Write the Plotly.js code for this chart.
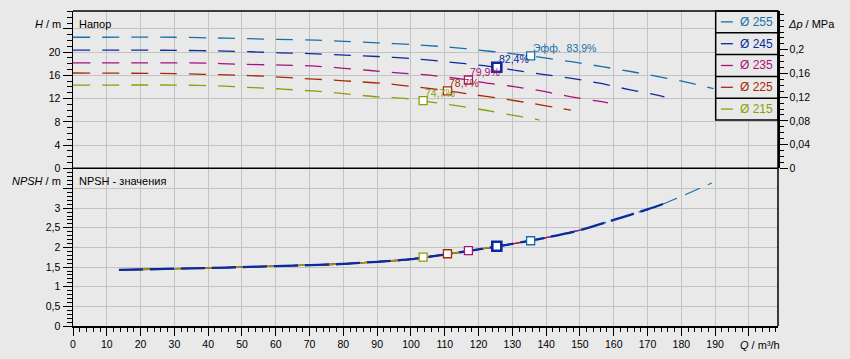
<!DOCTYPE html>
<html>
<head>
<meta charset="utf-8">
<script src="https://cdn.plot.ly/plotly-3.0.1.min.js"></script>
<style>
html,body{margin:0;padding:0;background:#e9e9e9;}
#chart{width:850px;height:359px;}
</style>
</head>
<body>
<div id="chart"></div>
<script>
// ---------- DATA ----------
const diameters = ['255', '245', '235', '225', '215'];

// Head curves H(Q), Q in m³/h, H in m
const q255 = [0, 30, 45, 60, 72, 82, 90, 100, 108, 116, 124, 135.4, 139.5, 148, 156.5, 165, 173.5, 181.7, 189.5];
const h255 = [22.55, 22.55, 22.4, 22.2, 22.05, 21.8, 21.6, 21.3, 21.0, 20.6, 20.1, 19.36, 19.0, 18.3, 17.5, 16.66, 15.74, 14.8, 13.7];

const q245 = [0, 30, 45, 55, 61, 70, 82, 90, 100, 108, 116, 125.4, 131, 139.5, 148, 155.8, 164.5, 172.5, 175];
const h245 = [20.35, 20.3, 20.17, 20.0, 19.88, 19.74, 19.45, 19.24, 18.9, 18.47, 18.0, 17.4, 16.85, 16.14, 15.43, 14.65, 13.55, 12.64, 12.3];

const q235 = [0, 40, 48, 62, 70.5, 88, 97, 105.5, 117, 122, 130.5, 139, 147, 156, 158.3];
const h235 = [18.15, 18.1, 17.93, 17.76, 17.64, 16.83, 16.38, 16.03, 15.2, 14.7, 14.07, 13.27, 12.35, 11.5, 11.25];

const q225 = [0, 30, 48, 57, 61, 67, 75.5, 85, 93, 101.5, 108, 110.8, 117, 127.3, 135.5, 144.5, 147.3];
const h225 = [16.4, 16.3, 16.03, 15.86, 15.7, 15.5, 15.22, 14.88, 14.55, 14.0, 13.55, 13.33, 12.8, 11.95, 11.2, 10.28, 10.0];

const q215 = [0, 30, 45, 50, 57, 62, 72, 80, 90, 98, 103.6, 106.5, 114, 122.5, 129.5, 136.7, 138];
const h215 = [14.3, 14.33, 14.14, 13.97, 13.8, 13.62, 13.27, 12.86, 12.3, 12.05, 11.65, 11.35, 10.74, 9.95, 9.19, 8.45, 8.3];

// NPSH curve (m)
const npshQ = [13.6, 20, 30, 40, 50, 60, 70, 80, 90, 100, 110, 120, 130, 140, 150, 160, 170, 175, 180, 189];
const npshV = [1.43, 1.44, 1.46, 1.475, 1.50, 1.525, 1.55, 1.58, 1.635, 1.70, 1.82, 1.95, 2.09, 2.25, 2.44, 2.70, 2.97, 3.12, 3.30, 3.64];

// Best efficiency points, order as diameters
const effQ    = [135.4, 125.4, 117.0, 110.8, 103.6];
const effH    = [19.36, 17.4, 15.2, 13.33, 11.65];
const effNPSH = [2.17, 2.03, 1.92, 1.84, 1.756];
const effPct  = ['Эфф.&nbsp; 83,9%', '82,4%', '79,9%', '78,7%', '74,7%'];

// Axis ticks
const xTickVals = [0,10,20,30,40,50,60,70,80,90,100,110,120,130,140,150,160,170,180,190,200];
const xTickText = ['0','10','20','30','40','50','60','70','80','90','100','110','120','130','140','150','160','170','180','190',''];
const hTickVals = [0,4,8,12,16,20,24];
const hTickText = ['0','4','8','12','16','20',''];
const nTickVals = [0,0.5,1,1.5,2,2.5,3,3.5];
const nTickText = ['0','0,5','1','1,5','2','2,5','3',''];
const pTickVals = [0,0.04,0.08,0.12,0.16,0.2];
const pTickText = ['0','0,04','0,08','0,12','0,16','0,2'];

// ---------- STYLE ----------
const colors = ['#1670a8', '#0a2a9e', '#a8107e', '#a82a08', '#8c9e0a'];
const BG = '#e9e9e9';
const GRID = '#c3c3c3';
const FONT = 'Liberation Sans, Arial, sans-serif';
const HMAX = 27.07;
const NMAX = 4.015;
const MPA_PER_M = 0.0098066;
const split = 0.5006;

const qs = [q255, q245, q235, q225, q215];
const hs = [h255, h245, h235, h225, h215];

const traces = [];
// Head curves
for (let i = 0; i < 5; i++) {
  traces.push({
    x: qs[i], y: hs[i], xaxis: 'x', yaxis: 'y', mode: 'lines', hoverinfo: 'skip',
    line: {color: colors[i], width: 1.3, dash: '17px,12px', shape: 'spline', smoothing: 0.6}
  });
}
// NPSH curves (thin ones first, 245 thick on top)
const npshOrder = [0, 2, 3, 4, 1];
npshOrder.forEach(i => {
  const qmax = qs[i][qs[i].length - 1];
  const xs = [], ys = [];
  npshQ.forEach((q, k) => { if (q <= qmax) { xs.push(q); ys.push(npshV[k]); } });
  const thick = (i === 1);
  traces.push({
    x: xs, y: ys, xaxis: 'x', yaxis: 'y2', mode: 'lines', hoverinfo: 'skip',
    line: {color: colors[i], width: thick ? 2.3 : (i === 0 ? 1.2 : 1.4),
           dash: thick ? '24px,7px' : (i === 0 ? '16px,9px' : 'solid'), shape: 'spline', smoothing: 0.6}
  });
});
// Efficiency markers (top and bottom)
for (let i = 0; i < 5; i++) {
  const thick = (i === 1);
  const mk = {symbol: 'square', size: thick ? 9 : 8, color: '#ffffff',
              line: {color: colors[i], width: thick ? 2.6 : 1.3}};
  traces.push({x: [effQ[i]], y: [effH[i]], xaxis: 'x', yaxis: 'y', mode: 'markers', marker: mk, hoverinfo: 'skip'});
  traces.push({x: [effQ[i]], y: [effNPSH[i]], xaxis: 'x', yaxis: 'y2', mode: 'markers', marker: mk, hoverinfo: 'skip'});
}
// invisible trace on pressure axis
traces.push({x: [0], y: [0], xaxis: 'x', yaxis: 'y3', mode: 'markers', marker: {opacity: 0}, hoverinfo: 'skip'});

const tickFont = {family: FONT, size: 10.5, color: '#000'};
const minorBase = {ticks: 'outside', ticklen: 4.5, tickcolor: '#000', tickwidth: 1, showgrid: false};

const annotations = [];
for (let i = 0; i < 5; i++) {
  annotations.push({
    x: effQ[i], y: effH[i], xref: 'x', yref: 'y', text: effPct[i], showarrow: false,
    xanchor: 'left', yanchor: 'middle', xshift: 0, yshift: 8,
    font: {family: FONT, size: 10.5, color: colors[i]}
  });
}
const lbl = (x, y, text, xa, size) => ({x: x, y: y, xref: 'paper', yref: 'paper', text: text, showarrow: false,
  xanchor: xa, yanchor: 'middle', font: {family: FONT, size: size || 11, color: '#000'}});
annotations.push(lbl(0.006, 0.958, 'Напор', 'left'));
annotations.push(lbl(0.006, 0.460, 'NPSH - значения', 'left'));
annotations.push(lbl(-0.014, 0.958, '<i>H</i> / m', 'right'));
annotations.push(lbl(-0.014, 0.460, '<i>NPSH</i> / m', 'right'));
annotations.push(lbl(1.012, 0.958, '<i>Δp</i> / MPa', 'left'));
annotations.push(lbl(0.943, -0.060, '<i>Q</i> / m³/h', 'left'));

// Legend built from shapes + annotations
const shapes = [];
const legX0 = 0.9116, legY0 = 0.654, legY1 = 1.0;
const rowH = (legY1 - legY0) / 5;
shapes.push({type: 'rect', xref: 'paper', yref: 'paper', x0: legX0, x1: 1, y0: legY0, y1: legY1,
             fillcolor: BG, line: {color: '#000', width: 1.5}, layer: 'above'});
for (let r = 0; r < 5; r++) {
  const yc = legY1 - rowH * (r + 0.5);
  if (r > 0) shapes.push({type: 'line', xref: 'paper', yref: 'paper', x0: legX0, x1: 1,
                          y0: legY1 - rowH * r, y1: legY1 - rowH * r, line: {color: '#000', width: 1.5}});
  shapes.push({type: 'line', xref: 'paper', yref: 'paper', x0: 0.9190, x1: 0.9360, y0: yc, y1: yc,
               line: {color: colors[r], width: 1.3}});
  annotations.push({x: 0.9435, y: yc, xref: 'paper', yref: 'paper', text: 'Ø ' + diameters[r], showarrow: false,
                    xanchor: 'left', yanchor: 'middle', font: {family: FONT, size: 12, color: colors[r]}});
}
// borders
shapes.push({type: 'line', xref: 'paper', yref: 'paper', x0: 0, x1: 1, y0: 1, y1: 1, line: {color: '#000', width: 1.5}});
shapes.push({type: 'line', xref: 'paper', yref: 'paper', x0: 0, x1: 1, y0: split, y1: split, line: {color: '#000', width: 1.5}});
shapes.push({type: 'line', xref: 'paper', yref: 'paper', x0: 1, x1: 1, y0: 0, y1: 1, line: {color: '#000', width: 1.5}});

const layout = {
  width: 850, height: 359,
  margin: {l: 73, r: 72, t: 11, b: 33},
  paper_bgcolor: BG, plot_bgcolor: BG,
  showlegend: false,
  font: {family: FONT, size: 11, color: '#000'},
  xaxis: {
    domain: [0, 1], range: [0, 208.6], anchor: 'y2',
    tickmode: 'array', tickvals: xTickVals, ticktext: xTickText,
    ticks: 'outside', ticklen: 8, tickcolor: '#000', tickwidth: 1, tickfont: tickFont,
    minor: Object.assign({tickmode: 'linear', tick0: 0, dtick: 2}, minorBase),
    showgrid: true, gridcolor: GRID, gridwidth: 1,
    showline: true, linecolor: '#000', linewidth: 1.5, zeroline: false, fixedrange: true
  },
  yaxis: {
    domain: [split, 1], range: [0, HMAX], anchor: 'x',
    tickmode: 'array', tickvals: hTickVals, ticktext: hTickText,
    ticks: 'outside', ticklen: 9, tickcolor: '#000', tickwidth: 1, tickfont: tickFont,
    minor: Object.assign({tickmode: 'linear', tick0: 0, dtick: 1}, minorBase),
    showgrid: true, gridcolor: GRID, gridwidth: 1,
    showline: true, linecolor: '#000', linewidth: 1.5, zeroline: false, fixedrange: true
  },
  yaxis2: {
    domain: [0, split], range: [0, NMAX], anchor: 'x',
    tickmode: 'array', tickvals: nTickVals, ticktext: nTickText,
    ticks: 'outside', ticklen: 9, tickcolor: '#000', tickwidth: 1, tickfont: tickFont,
    minor: Object.assign({tickmode: 'linear', tick0: 0, dtick: 0.1}, minorBase),
    showgrid: true, gridcolor: GRID, gridwidth: 1,
    showline: true, linecolor: '#000', linewidth: 1.5, zeroline: false, fixedrange: true
  },
  yaxis3: {
    overlaying: 'y', side: 'right', anchor: 'x', range: [0, HMAX * MPA_PER_M],
    tickmode: 'array', tickvals: pTickVals, ticktext: pTickText,
    ticks: 'outside', ticklen: 8, tickcolor: '#000', tickwidth: 1, tickfont: tickFont,
    minor: Object.assign({tickmode: 'linear', tick0: 0, dtick: 0.01}, minorBase),
    showgrid: false, showline: true, linecolor: '#000', linewidth: 1.5, zeroline: false, fixedrange: true
  },
  annotations: annotations,
  shapes: shapes
};

Plotly.newPlot('chart', traces, layout, {displayModeBar: false, staticPlot: true});
</script>
</body>
</html>
